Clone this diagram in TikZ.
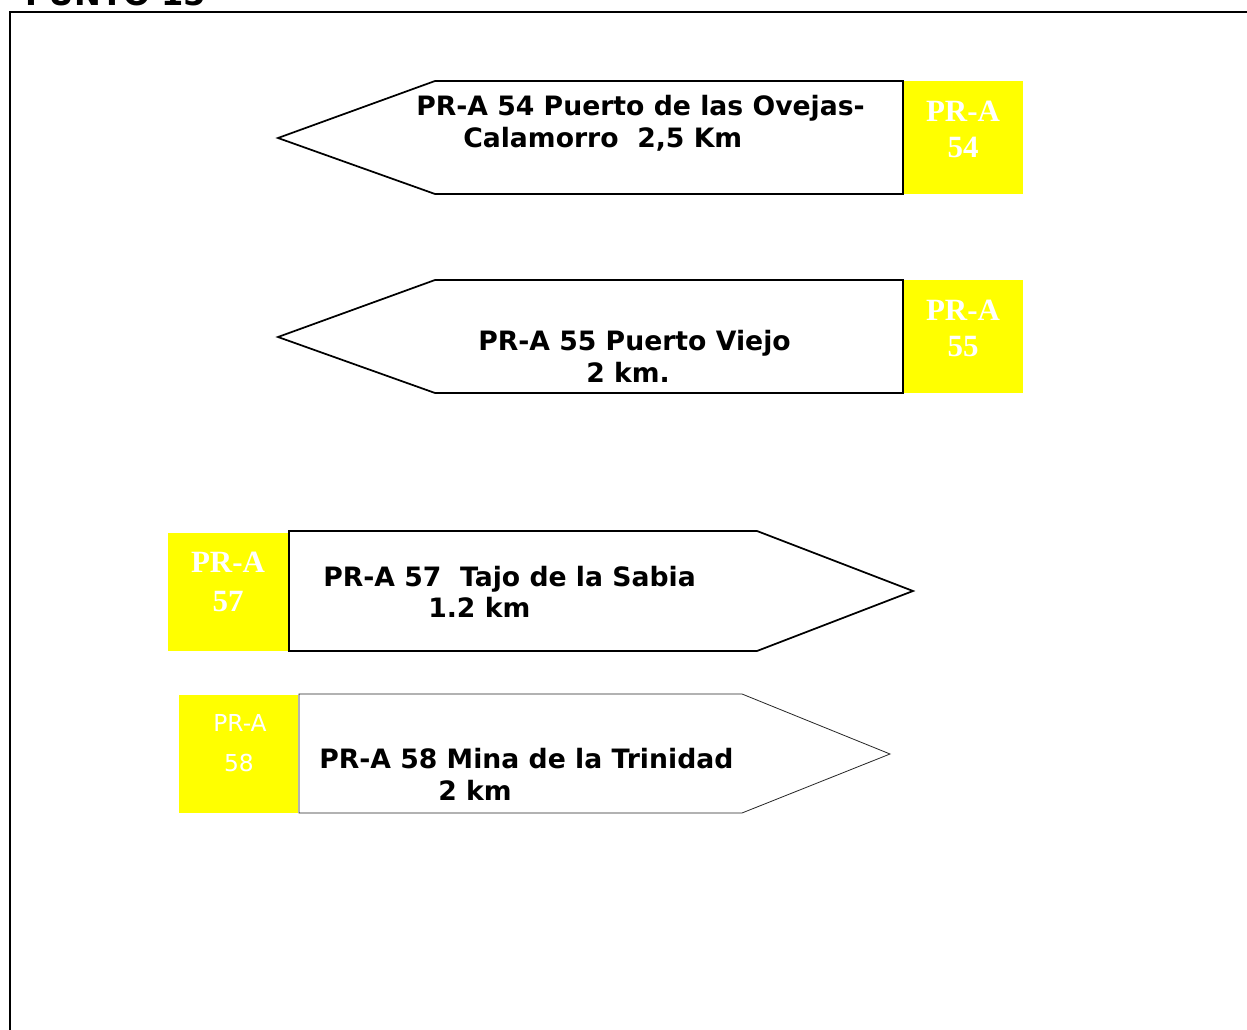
\documentclass[tikz,border=0pt]{standalone}
\usepackage{fontspec}
\setmainfont{DejaVu Sans}
\newfontfamily\signsans{DejaVu Sans}
\newfontfamily\signserif{Liberation Serif}
\definecolor{signyellow}{RGB}{255,255,0}
\begin{document}
\begin{tikzpicture}[x=0.75pt,y=-0.75pt,
  frame/.style={draw=black, line width=1.6pt},
  signshape/.style={draw=black, line width=1.3pt, fill=white, line join=miter},
  thinsign/.style={draw=black!85, line width=0.6pt, fill=white, line join=miter},
  ybox/.style={fill=signyellow, draw=none},
  lbl/.style={anchor=base west, inner sep=0pt, font=\signsans\bfseries\fontsize{20}{24}\selectfont},
  ptxt/.style={anchor=base, inner sep=0pt, text=white, font=\signserif\bfseries\fontsize{23.2}{27}\selectfont},
  ptxtsans/.style={anchor=base, inner sep=0pt, text=white, font=\signsans\fontsize{17.5}{21}\selectfont},
  title/.style={anchor=base west, inner sep=0pt, font=\signsans\bfseries\fontsize{24}{28}\selectfont}]
\useasboundingbox (0,0) rectangle (1247,1030);
\clip (0,0) rectangle (1247,1030);
\fill[white] (0,0) rectangle (1247,1030);

% title (cut off at the top, as in the original)
\node[title] (title) at (25,6) {PUNTO 15};

% frame
\draw[frame] (10,1035) -- (10,12) -- (1250,12);

% sign 54
\draw[signshape] (278,138) -- (435,81) -- (903,81) -- (903,194) -- (435,194) -- cycle;
\fill[ybox] (904,81) rectangle (1023,194);
\node[lbl] (s54a) at (416,116) {PR-A 54 Puerto de las Ovejas-};
\node[lbl] (s54b) at (463,148) {Calamorro\ \ 2,5 Km};
\node[ptxt] (y54a) at (963,122) {PR-A};
\node[ptxt] (y54b) at (963,158) {54};

% sign 55
\draw[signshape] (278,337) -- (435,280) -- (903,280) -- (903,393) -- (435,393) -- cycle;
\fill[ybox] (904,280) rectangle (1023,393);
\node[lbl] (s55a) at (478,351) {PR-A 55 Puerto Viejo};
\node[lbl] (s55b) at (586,383) {2 km.};
\node[ptxt] (y55a) at (963,321) {PR-A};
\node[ptxt] (y55b) at (963,357) {55};

% sign 57
\fill[ybox] (168,533) rectangle (288,651);
\draw[signshape] (289,531) -- (757,531) -- (913,591) -- (757,651) -- (289,651) -- cycle;
\node[lbl] (s57a) at (323,586) {PR-A 57\ \ Tajo de la Sabia};
\node[lbl] (s57b) at (428,618) {1.2 km};
\node[ptxt] (y57a) at (228,573) {PR-A};
\node[ptxt] (y57b) at (228,612) {57};

% sign 58
\fill[ybox] (179,695) rectangle (298,813);
\draw[thinsign] (299,694) -- (742,694) -- (890,754) -- (742,813) -- (299,813) -- cycle;
\node[lbl] (s58a) at (319,768) {PR-A 58 Mina de la Trinidad};
\node[lbl] (s58b) at (438,800) {2 km};
\node[ptxtsans] (y58a) at (240,731) {PR-A};
\node[ptxtsans] (y58b) at (239,771) {58};
\end{tikzpicture}
\end{document}
